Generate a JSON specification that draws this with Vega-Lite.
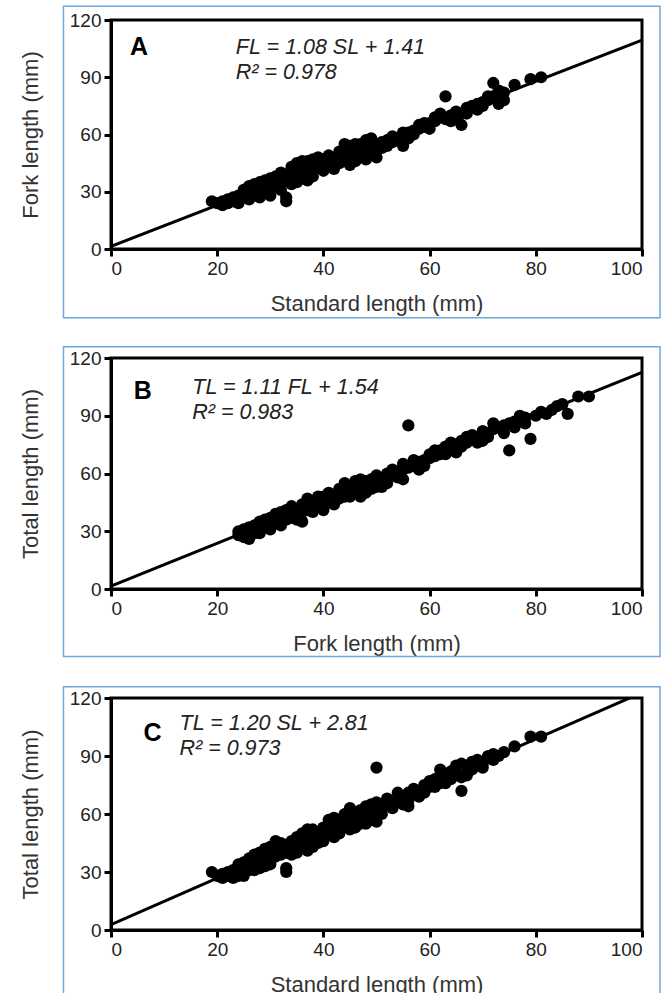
{
  "$schema": "https://vega.github.io/schema/vega-lite/v6.json",
  "padding": {"left": 17, "top": 4, "right": 0, "bottom": 0},
  "background": "white",
  "config": {
    "font": "Liberation Sans",
    "view": {"stroke": "black", "strokeWidth": 3},
    "axis": {
      "grid": false,
      "domainColor": "black",
      "domainWidth": 3,
      "tickColor": "black",
      "tickWidth": 3,
      "tickSize": 7,
      "labelFont": "Liberation Sans",
      "labelFontSize": 19,
      "labelColor": "#222",
      "labelPadding": 3,
      "titleFont": "Liberation Sans",
      "titleFontSize": 22,
      "titleFontWeight": "normal",
      "titleColor": "#333"
    },
    "axisX": {"titlePadding": 15},
    "axisY": {"titlePadding": 27}
  },
  "vconcat": [
    {
      "width": 531,
      "height": 229,
      "layer": [
        {
          "data": {"values": [{}]},
          "mark": {"type": "rect", "fill": null, "stroke": "#6ea8dc", "strokeWidth": 1.5, "clip": false},
          "encoding": {
            "x": {"datum": -8.95, "type": "quantitative", "scale": {"domain": [0, 100], "nice": false}, "axis": {"title": "Standard length (mm)", "values": [0, 20, 40, 60, 80, 100]}},
            "x2": {"datum": 103.4},
            "y": {"datum": 127.2, "type": "quantitative", "scale": {"domain": [0, 120], "nice": false}, "axis": {"title": "Fork length (mm)", "values": [0, 30, 60, 90, 120]}},
            "y2": {"datum": -36}
          }
        },
        {
          "data": {"values": [{"x": 0, "y": 1.41}, {"x": 100, "y": 109.41}]},
          "mark": {"type": "line", "color": "black", "strokeWidth": 3, "clip": true},
          "encoding": {
            "x": {"field": "x", "type": "quantitative", "scale": {"domain": [0, 100], "nice": false}, "axis": {"title": "Standard length (mm)", "values": [0, 20, 40, 60, 80, 100]}},
            "y": {"field": "y", "type": "quantitative", "scale": {"domain": [0, 120], "nice": false}, "axis": {"title": "Fork length (mm)", "values": [0, 30, 60, 90, 120]}}
          }
        },
        {
          "data": {"values": [
            {"x":19,"y":25},{"x":20,"y":24},{"x":21,"y":23},{"x":21,"y":25},{"x":22,"y":24},{"x":22,"y":26},{"x":23,"y":25},{"x":23,"y":27},{"x":24,"y":26},{"x":24,"y":28},{"x":25,"y":27},{"x":25,"y":29},{"x":25,"y":31},{"x":26,"y":28},{"x":26,"y":30},{"x":26,"y":33},{"x":27,"y":29},{"x":27,"y":31},{"x":27,"y":34},{"x":28,"y":30},{"x":28,"y":32},{"x":28,"y":35},{"x":29,"y":30},{"x":29,"y":33},{"x":29,"y":36},{"x":30,"y":31},{"x":30,"y":34},{"x":30,"y":37},{"x":31,"y":33},{"x":31,"y":36},{"x":31,"y":38},{"x":32,"y":34},{"x":32,"y":37},{"x":32,"y":40},{"x":33,"y":25},{"x":33,"y":27},{"x":33,"y":36},{"x":33,"y":39},{"x":34,"y":37},{"x":34,"y":40},{"x":34,"y":43},{"x":35,"y":38},{"x":35,"y":41},{"x":35,"y":45},{"x":36,"y":37},{"x":36,"y":40},{"x":36,"y":44},{"x":37,"y":36},{"x":37,"y":42},{"x":37,"y":46},{"x":38,"y":41},{"x":38,"y":44},{"x":38,"y":47},{"x":39,"y":43},{"x":39,"y":46},{"x":40,"y":44},{"x":40,"y":47},{"x":41,"y":45},{"x":42,"y":42},{"x":42,"y":47},{"x":43,"y":48},{"x":43,"y":51},{"x":44,"y":47},{"x":44,"y":52},{"x":45,"y":44},{"x":45,"y":50},{"x":45,"y":54},{"x":46,"y":50},{"x":46,"y":55},{"x":47,"y":52},{"x":47,"y":55},{"x":48,"y":47},{"x":48,"y":53},{"x":49,"y":50},{"x":49,"y":55},{"x":49,"y":58},{"x":50,"y":48},{"x":50,"y":52},{"x":51,"y":56},{"x":52,"y":57},{"x":53,"y":59},{"x":54,"y":58},{"x":55,"y":54},{"x":55,"y":61},{"x":56,"y":61},{"x":57,"y":62},{"x":58,"y":63},{"x":58,"y":65},{"x":59,"y":64},{"x":60,"y":66},{"x":61,"y":67},{"x":62,"y":69},{"x":62,"y":71},{"x":63,"y":80},{"x":63,"y":68},{"x":64,"y":70},{"x":65,"y":72},{"x":66,"y":65},{"x":66,"y":71},{"x":67,"y":74},{"x":68,"y":75},{"x":69,"y":76},{"x":70,"y":77},{"x":71,"y":78},{"x":72,"y":80},{"x":72,"y":87},{"x":73,"y":79},{"x":73,"y":83},{"x":74,"y":78},{"x":76,"y":86},{"x":79,"y":89},{"x":81,"y":90},
            {"x":24,"y":24},{"x":26,"y":26},{"x":28,"y":27},{"x":30,"y":28},{"x":32,"y":31},{"x":34,"y":34},{"x":35,"y":35},{"x":36,"y":46},{"x":38,"y":38},{"x":39,"y":48},{"x":40,"y":41},{"x":41,"y":49},{"x":43,"y":45},{"x":44,"y":55},{"x":46,"y":46},{"x":47,"y":50},{"x":48,"y":57},{"x":50,"y":55},{"x":51,"y":53},{"x":52,"y":54},{"x":53,"y":56},{"x":56,"y":58},{"x":57,"y":60},{"x":59,"y":66},{"x":60,"y":63},{"x":61,"y":69},{"x":64,"y":67},{"x":65,"y":69},{"x":67,"y":71},{"x":69,"y":73},{"x":70,"y":75},{"x":71,"y":80},{"x":73,"y":76},{"x":74,"y":82}
          ]},
          "mark": {"type": "circle", "size": 150, "color": "black", "opacity": 1},
          "encoding": {
            "x": {"field": "x", "type": "quantitative", "scale": {"domain": [0, 100], "nice": false}, "axis": {"title": "Standard length (mm)", "values": [0, 20, 40, 60, 80, 100]}},
            "y": {"field": "y", "type": "quantitative", "scale": {"domain": [0, 120], "nice": false}, "axis": {"title": "Fork length (mm)", "values": [0, 30, 60, 90, 120]}}
          }
        },
        {
          "data": {"values": [{}]},
          "mark": {"type": "text", "align": "left", "baseline": "alphabetic", "fontSize": 25, "fontWeight": "bold", "color": "black"},
          "encoding": {
            "x": {"datum": 3.6, "type": "quantitative", "scale": {"domain": [0, 100], "nice": false}, "axis": {"title": "Standard length (mm)", "values": [0, 20, 40, 60, 80, 100]}},
            "y": {"datum": 101.5, "type": "quantitative", "scale": {"domain": [0, 120], "nice": false}, "axis": {"title": "Fork length (mm)", "values": [0, 30, 60, 90, 120]}},
            "text": {"value": "A"}
          }
        },
        {
          "data": {"values": [{}]},
          "mark": {"type": "text", "align": "left", "baseline": "alphabetic", "fontSize": 21.5, "fontStyle": "italic", "color": "#222", "lineHeight": 25},
          "encoding": {
            "x": {"datum": 23.5, "type": "quantitative", "scale": {"domain": [0, 100], "nice": false}, "axis": {"title": "Standard length (mm)", "values": [0, 20, 40, 60, 80, 100]}},
            "y": {"datum": 102, "type": "quantitative", "scale": {"domain": [0, 120], "nice": false}, "axis": {"title": "Fork length (mm)", "values": [0, 30, 60, 90, 120]}},
            "text": {"value": ["FL = 1.08 SL + 1.41", "R² = 0.978"]}
          }
        }
      ]
    },
    {
      "width": 531,
      "height": 231,
      "layer": [
        {
          "data": {"values": [{}]},
          "mark": {"type": "rect", "fill": null, "stroke": "#6ea8dc", "strokeWidth": 1.5, "clip": false},
          "encoding": {
            "x": {"datum": -8.95, "type": "quantitative", "scale": {"domain": [0, 100], "nice": false}, "axis": {"title": "Fork length (mm)", "values": [0, 20, 40, 60, 80, 100]}},
            "x2": {"datum": 103.4},
            "y": {"datum": 125.8, "type": "quantitative", "scale": {"domain": [0, 120], "nice": false}, "axis": {"title": "Total length (mm)", "values": [0, 30, 60, 90, 120]}},
            "y2": {"datum": -35}
          }
        },
        {
          "data": {"values": [{"x": 0, "y": 1.54}, {"x": 100, "y": 112.54}]},
          "mark": {"type": "line", "color": "black", "strokeWidth": 3, "clip": true},
          "encoding": {
            "x": {"field": "x", "type": "quantitative", "scale": {"domain": [0, 100], "nice": false}, "axis": {"title": "Fork length (mm)", "values": [0, 20, 40, 60, 80, 100]}},
            "y": {"field": "y", "type": "quantitative", "scale": {"domain": [0, 120], "nice": false}, "axis": {"title": "Total length (mm)", "values": [0, 30, 60, 90, 120]}}
          }
        },
        {
          "data": {"values": [
            {"x":24,"y":28},{"x":24,"y":30},{"x":25,"y":27},{"x":25,"y":29},{"x":25,"y":31},{"x":26,"y":28},{"x":26,"y":30},{"x":26,"y":32},{"x":27,"y":29},{"x":27,"y":31},{"x":27,"y":33},{"x":28,"y":31},{"x":28,"y":33},{"x":28,"y":35},{"x":29,"y":32},{"x":29,"y":34},{"x":29,"y":36},{"x":30,"y":33},{"x":30,"y":35},{"x":30,"y":37},{"x":31,"y":34},{"x":31,"y":36},{"x":31,"y":39},{"x":32,"y":35},{"x":32,"y":38},{"x":32,"y":40},{"x":33,"y":36},{"x":33,"y":39},{"x":34,"y":37},{"x":34,"y":40},{"x":34,"y":43},{"x":35,"y":38},{"x":35,"y":41},{"x":36,"y":35},{"x":36,"y":40},{"x":36,"y":44},{"x":37,"y":41},{"x":37,"y":43},{"x":37,"y":47},{"x":38,"y":42},{"x":38,"y":45},{"x":39,"y":43},{"x":39,"y":46},{"x":40,"y":41},{"x":40,"y":45},{"x":40,"y":48},{"x":41,"y":45},{"x":41,"y":47},{"x":42,"y":46},{"x":42,"y":49},{"x":43,"y":47},{"x":43,"y":50},{"x":44,"y":48},{"x":44,"y":51},{"x":44,"y":55},{"x":45,"y":50},{"x":45,"y":53},{"x":46,"y":51},{"x":46,"y":54},{"x":47,"y":48},{"x":47,"y":52},{"x":47,"y":57},{"x":48,"y":53},{"x":48,"y":56},{"x":49,"y":54},{"x":49,"y":57},{"x":50,"y":56},{"x":50,"y":59},{"x":51,"y":53},{"x":51,"y":57},{"x":52,"y":58},{"x":52,"y":60},{"x":53,"y":59},{"x":54,"y":61},{"x":55,"y":57},{"x":55,"y":62},{"x":55,"y":65},{"x":56,"y":85},{"x":56,"y":63},{"x":57,"y":64},{"x":58,"y":62},{"x":58,"y":66},{"x":59,"y":67},{"x":60,"y":68},{"x":60,"y":70},{"x":61,"y":69},{"x":62,"y":70},{"x":62,"y":72},{"x":63,"y":70},{"x":64,"y":73},{"x":65,"y":75},{"x":66,"y":74},{"x":66,"y":77},{"x":67,"y":76},{"x":68,"y":78},{"x":68,"y":80},{"x":69,"y":79},{"x":70,"y":77},{"x":70,"y":82},{"x":71,"y":81},{"x":72,"y":83},{"x":73,"y":84},{"x":74,"y":85},{"x":75,"y":72},{"x":75,"y":86},{"x":76,"y":87},{"x":77,"y":88},{"x":78,"y":89},{"x":78,"y":86},{"x":79,"y":78},{"x":80,"y":90},{"x":82,"y":91},{"x":84,"y":95},{"x":85,"y":96},{"x":86,"y":91},{"x":88,"y":100},{"x":90,"y":100},
            {"x":26,"y":26},{"x":28,"y":29},{"x":30,"y":31},{"x":32,"y":33},{"x":33,"y":41},{"x":35,"y":36},{"x":36,"y":42},{"x":38,"y":40},{"x":39,"y":48},{"x":41,"y":50},{"x":42,"y":44},{"x":43,"y":52},{"x":45,"y":48},{"x":46,"y":56},{"x":48,"y":50},{"x":49,"y":52},{"x":50,"y":53},{"x":52,"y":55},{"x":53,"y":62},{"x":54,"y":58},{"x":57,"y":67},{"x":59,"y":64},{"x":61,"y":72},{"x":63,"y":74},{"x":64,"y":76},{"x":65,"y":71},{"x":67,"y":79},{"x":69,"y":76},{"x":71,"y":79},{"x":72,"y":86},{"x":74,"y":81},{"x":76,"y":84},{"x":77,"y":90},{"x":81,"y":92},{"x":83,"y":93}
          ]},
          "mark": {"type": "circle", "size": 150, "color": "black", "opacity": 1},
          "encoding": {
            "x": {"field": "x", "type": "quantitative", "scale": {"domain": [0, 100], "nice": false}, "axis": {"title": "Fork length (mm)", "values": [0, 20, 40, 60, 80, 100]}},
            "y": {"field": "y", "type": "quantitative", "scale": {"domain": [0, 120], "nice": false}, "axis": {"title": "Total length (mm)", "values": [0, 30, 60, 90, 120]}}
          }
        },
        {
          "data": {"values": [{}]},
          "mark": {"type": "text", "align": "left", "baseline": "alphabetic", "fontSize": 25, "fontWeight": "bold", "color": "black"},
          "encoding": {
            "x": {"datum": 4.3, "type": "quantitative", "scale": {"domain": [0, 100], "nice": false}, "axis": {"title": "Fork length (mm)", "values": [0, 20, 40, 60, 80, 100]}},
            "y": {"datum": 98.8, "type": "quantitative", "scale": {"domain": [0, 120], "nice": false}, "axis": {"title": "Total length (mm)", "values": [0, 30, 60, 90, 120]}},
            "text": {"value": "B"}
          }
        },
        {
          "data": {"values": [{}]},
          "mark": {"type": "text", "align": "left", "baseline": "alphabetic", "fontSize": 21.5, "fontStyle": "italic", "color": "#222", "lineHeight": 25},
          "encoding": {
            "x": {"datum": 15.3, "type": "quantitative", "scale": {"domain": [0, 100], "nice": false}, "axis": {"title": "Fork length (mm)", "values": [0, 20, 40, 60, 80, 100]}},
            "y": {"datum": 101.4, "type": "quantitative", "scale": {"domain": [0, 120], "nice": false}, "axis": {"title": "Total length (mm)", "values": [0, 30, 60, 90, 120]}},
            "text": {"value": ["TL = 1.11 FL + 1.54", "R² = 0.983"]}
          }
        }
      ]
    },
    {
      "width": 531,
      "height": 232,
      "layer": [
        {
          "data": {"values": [{}]},
          "mark": {"type": "rect", "fill": null, "stroke": "#6ea8dc", "strokeWidth": 1.5, "clip": false},
          "encoding": {
            "x": {"datum": -8.95, "type": "quantitative", "scale": {"domain": [0, 100], "nice": false}, "axis": {"title": "Standard length (mm)", "values": [0, 20, 40, 60, 80, 100]}},
            "x2": {"datum": 103.4},
            "y": {"datum": 125.8, "type": "quantitative", "scale": {"domain": [0, 120], "nice": false}, "axis": {"title": "Total length (mm)", "values": [0, 30, 60, 90, 120]}},
            "y2": {"datum": -35}
          }
        },
        {
          "data": {"values": [{"x": 0, "y": 2.81}, {"x": 100, "y": 122.81}]},
          "mark": {"type": "line", "color": "black", "strokeWidth": 3, "clip": true},
          "encoding": {
            "x": {"field": "x", "type": "quantitative", "scale": {"domain": [0, 100], "nice": false}, "axis": {"title": "Standard length (mm)", "values": [0, 20, 40, 60, 80, 100]}},
            "y": {"field": "y", "type": "quantitative", "scale": {"domain": [0, 120], "nice": false}, "axis": {"title": "Total length (mm)", "values": [0, 30, 60, 90, 120]}}
          }
        },
        {
          "data": {"values": [
            {"x":19,"y":30},{"x":20,"y":28},{"x":21,"y":27},{"x":21,"y":29},{"x":22,"y":28},{"x":22,"y":30},{"x":23,"y":29},{"x":23,"y":31},{"x":24,"y":28},{"x":24,"y":31},{"x":24,"y":34},{"x":25,"y":30},{"x":25,"y":33},{"x":25,"y":35},{"x":26,"y":31},{"x":26,"y":34},{"x":26,"y":37},{"x":27,"y":33},{"x":27,"y":36},{"x":27,"y":39},{"x":28,"y":34},{"x":28,"y":37},{"x":28,"y":40},{"x":29,"y":33},{"x":29,"y":36},{"x":29,"y":39},{"x":29,"y":42},{"x":30,"y":36},{"x":30,"y":40},{"x":30,"y":43},{"x":31,"y":38},{"x":31,"y":41},{"x":31,"y":44},{"x":32,"y":39},{"x":32,"y":42},{"x":32,"y":45},{"x":33,"y":30},{"x":33,"y":32},{"x":33,"y":40},{"x":33,"y":44},{"x":34,"y":42},{"x":34,"y":46},{"x":35,"y":42},{"x":35,"y":45},{"x":35,"y":48},{"x":36,"y":44},{"x":36,"y":47},{"x":37,"y":41},{"x":37,"y":45},{"x":37,"y":49},{"x":38,"y":43},{"x":38,"y":48},{"x":38,"y":52},{"x":39,"y":47},{"x":39,"y":50},{"x":40,"y":49},{"x":40,"y":53},{"x":41,"y":50},{"x":41,"y":54},{"x":42,"y":48},{"x":42,"y":52},{"x":42,"y":58},{"x":43,"y":53},{"x":43,"y":56},{"x":44,"y":54},{"x":44,"y":57},{"x":45,"y":52},{"x":45,"y":56},{"x":45,"y":60},{"x":46,"y":56},{"x":46,"y":60},{"x":47,"y":58},{"x":47,"y":62},{"x":48,"y":55},{"x":48,"y":60},{"x":48,"y":64},{"x":49,"y":60},{"x":49,"y":65},{"x":50,"y":56},{"x":50,"y":62},{"x":50,"y":66},{"x":50,"y":84},{"x":51,"y":63},{"x":52,"y":65},{"x":53,"y":66},{"x":54,"y":68},{"x":55,"y":65},{"x":55,"y":69},{"x":56,"y":67},{"x":56,"y":71},{"x":57,"y":70},{"x":58,"y":69},{"x":58,"y":72},{"x":59,"y":75},{"x":60,"y":74},{"x":60,"y":77},{"x":61,"y":78},{"x":62,"y":76},{"x":62,"y":80},{"x":63,"y":79},{"x":64,"y":82},{"x":65,"y":81},{"x":65,"y":85},{"x":66,"y":72},{"x":66,"y":79},{"x":66,"y":86},{"x":67,"y":85},{"x":68,"y":83},{"x":68,"y":87},{"x":70,"y":86},{"x":71,"y":90},{"x":72,"y":91},{"x":73,"y":90},{"x":76,"y":95},{"x":79,"y":100},{"x":81,"y":100},
            {"x":23,"y":27},{"x":25,"y":28},{"x":27,"y":31},{"x":28,"y":32},{"x":30,"y":34},{"x":31,"y":46},{"x":34,"y":39},{"x":35,"y":40},{"x":36,"y":50},{"x":37,"y":52},{"x":39,"y":45},{"x":40,"y":46},{"x":41,"y":57},{"x":43,"y":50},{"x":44,"y":60},{"x":45,"y":63},{"x":46,"y":53},{"x":47,"y":55},{"x":49,"y":57},{"x":51,"y":60},{"x":52,"y":68},{"x":53,"y":63},{"x":54,"y":71},{"x":56,"y":64},{"x":57,"y":73},{"x":59,"y":71},{"x":61,"y":74},{"x":62,"y":83},{"x":63,"y":76},{"x":64,"y":78},{"x":67,"y":80},{"x":69,"y":88},{"x":70,"y":84},{"x":72,"y":88},{"x":74,"y":92}
          ]},
          "mark": {"type": "circle", "size": 150, "color": "black", "opacity": 1},
          "encoding": {
            "x": {"field": "x", "type": "quantitative", "scale": {"domain": [0, 100], "nice": false}, "axis": {"title": "Standard length (mm)", "values": [0, 20, 40, 60, 80, 100]}},
            "y": {"field": "y", "type": "quantitative", "scale": {"domain": [0, 120], "nice": false}, "axis": {"title": "Total length (mm)", "values": [0, 30, 60, 90, 120]}}
          }
        },
        {
          "data": {"values": [{}]},
          "mark": {"type": "text", "align": "left", "baseline": "alphabetic", "fontSize": 25, "fontWeight": "bold", "color": "black"},
          "encoding": {
            "x": {"datum": 6.1, "type": "quantitative", "scale": {"domain": [0, 100], "nice": false}, "axis": {"title": "Standard length (mm)", "values": [0, 20, 40, 60, 80, 100]}},
            "y": {"datum": 98, "type": "quantitative", "scale": {"domain": [0, 120], "nice": false}, "axis": {"title": "Total length (mm)", "values": [0, 30, 60, 90, 120]}},
            "text": {"value": "C"}
          }
        },
        {
          "data": {"values": [{}]},
          "mark": {"type": "text", "align": "left", "baseline": "alphabetic", "fontSize": 21.5, "fontStyle": "italic", "color": "#222", "lineHeight": 25},
          "encoding": {
            "x": {"datum": 12.9, "type": "quantitative", "scale": {"domain": [0, 100], "nice": false}, "axis": {"title": "Standard length (mm)", "values": [0, 20, 40, 60, 80, 100]}},
            "y": {"datum": 103.2, "type": "quantitative", "scale": {"domain": [0, 120], "nice": false}, "axis": {"title": "Total length (mm)", "values": [0, 30, 60, 90, 120]}},
            "text": {"value": ["TL = 1.20 SL + 2.81", "R² = 0.973"]}
          }
        }
      ]
    }
  ],
  "spacing": 109,
  "bounds": "flush"
}
